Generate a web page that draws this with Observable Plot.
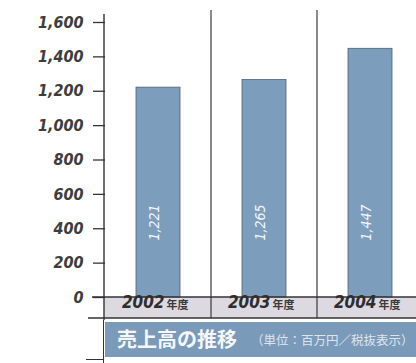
<!DOCTYPE html>
<html><head><meta charset="utf-8">
<script src="https://cdn.jsdelivr.net/npm/d3@7"></script>
<script src="https://cdn.jsdelivr.net/npm/@observablehq/plot@0.6"></script>
<style>
html,body{margin:0;padding:0;background:#fff;}
#wrap{width:416px;height:363px;overflow:hidden;position:relative;}
#title{position:relative;width:416px;height:43px;}
#title .axis{position:absolute;left:103px;top:0;width:1.4px;height:43px;background:#333;}
#title .tick{position:absolute;left:86px;top:39px;width:18px;height:1.3px;background:#333;}
#title .band{position:absolute;left:105px;top:2px;width:311px;height:35px;background:#7a9aba;
  font-family:"Noto Sans CJK JP",sans-serif;color:#f4f6f8;white-space:nowrap;}
#title .main{position:absolute;left:12px;top:4px;font-size:20px;font-weight:700;line-height:26px;}
#title .unit{position:absolute;left:146px;top:9px;font-size:12.5px;line-height:18px;color:#dde6ef;}
</style></head>
<body><div id="wrap"><div id="chart"></div>
<div id="title"><div class="axis"></div><div class="tick"></div>
<div class="band"><span class="main">売上高の推移</span><span class="unit">（単位：百万円／税抜表示）</span></div></div></div>
<script>
const years = ["2002", "2003", "2004"];
const sales = [1221, 1265, 1447];
const yTicks = [0, 200, 400, 600, 800, 1000, 1200, 1400, 1600];
const yearSuffix = "年度";
const data = years.map((y, i) => ({year: y, value: sales[i]}));

const font = '"DejaVu Sans Condensed","DejaVu Sans",sans-serif';

function decor(index, scales, values, dims) {
  const g = d3.create("svg:g");
  const y0 = dims.height - dims.marginBottom;
  const x0 = dims.marginLeft - 1;
  g.append("rect").attr("x", x0).attr("y", y0).attr("width", dims.width - x0).attr("height", 21).attr("fill", "#dcd9e1");
  g.append("line").attr("x1", 88).attr("x2", dims.width).attr("y1", y0 + 21).attr("y2", y0 + 21).attr("stroke", "#333").attr("stroke-width", 1.3);
  years.slice(1).forEach(yr => {
    const xs = scales.x(yr);
    g.append("line").attr("x1", xs).attr("x2", xs).attr("y1", 10).attr("y2", y0 + 21).attr("stroke", "#3a3a3a").attr("stroke-width", 1.2);
  });
  return g.node();
}
function axisLine(index, scales, values, dims) {
  const g = d3.create("svg:g");
  const y0 = dims.height - dims.marginBottom;
  g.append("line").attr("x1", dims.marginLeft - 1).attr("x2", dims.marginLeft - 1).attr("y1", 14).attr("y2", dims.height).attr("stroke", "#333").attr("stroke-width", 1.4);
  g.append("line").attr("x1", 92).attr("x2", dims.width).attr("y1", y0).attr("y2", y0).attr("stroke", "#333").attr("stroke-width", 1.3);
  return g.node();
}

const plot = Plot.plot({
  width: 416,
  height: 320,
  marginTop: 22,
  marginBottom: 23,
  marginLeft: 105,
  marginRight: 0,
  style: {fontFamily: font, background: "#fff"},
  x: {domain: years, range: [104, 424], padding: 0, axis: null},
  y: {domain: [0, 1600], axis: null},
  marks: [
    decor,
    Plot.barY(data, {x: "year", y: "value", fill: "#7d9dbd", stroke: "#4d5f72", strokeWidth: 0.8, insetLeft: 31, insetRight: 31}),
    Plot.axisY({ticks: yTicks, tickFormat: d3.format(","), label: null, tickSize: 12, tickPadding: 10, fontSize: 16, fontStyle: "italic", fontWeight: "bold", fill: "#3d3d3d", stroke: "#333", strokeWidth: 1.3}),
    axisLine,
    Plot.text(data, {x: "year", text: d => d3.format(",")(d.value), frameAnchor: "bottom", dy: -75, rotate: -90, fill: "#f5f7fa", fontSize: 14, fontStyle: "italic"}),
    Plot.text(data, {x: "year", text: "year", frameAnchor: "bottom", dy: 10, dx: 6, textAnchor: "end", fontSize: 17, fontStyle: "italic", fontWeight: "bold", fill: "#2e2e2e"}),
    Plot.text(data, {x: "year", text: () => yearSuffix, frameAnchor: "bottom", dy: 11, dx: 8, textAnchor: "start", fontSize: 11, fontWeight: "bold", fill: "#3a3a3a", fontFamily: '"Noto Sans CJK JP",sans-serif'})
  ]
});
document.getElementById("chart").appendChild(plot);
</script></body></html>
